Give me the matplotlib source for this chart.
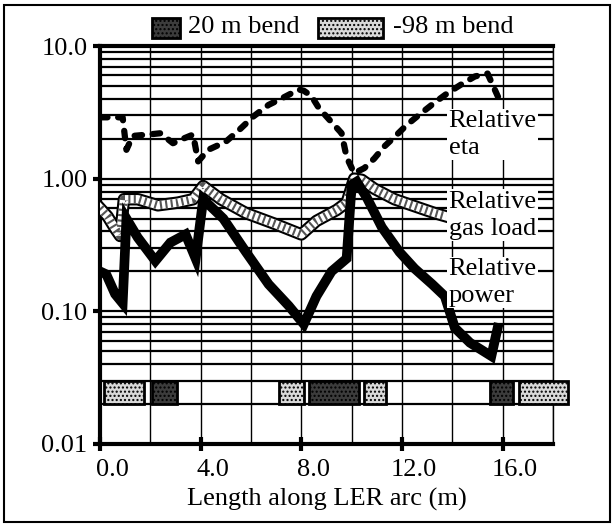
import numpy as np
import matplotlib
matplotlib.use("Agg")
import matplotlib.pyplot as plt
from matplotlib.patches import Rectangle
from matplotlib.ticker import FixedLocator, FixedFormatter, MultipleLocator, NullFormatter, LogLocator
import matplotlib.transforms as mtransforms

plt.rcParams['font.family'] = ['Liberation Serif', 'DejaVu Serif']
plt.rcParams['font.size'] = 19

# data
eta_x = [0.0, 0.9, 1.05, 1.3, 1.9, 2.4, 2.9, 3.3, 3.7, 3.9, 4.3, 5.0, 5.5, 6.1, 6.7, 7.3, 7.9,
         8.1, 8.4, 8.7, 9.1, 9.6, 9.8, 10.1, 10.5, 10.9, 11.3, 11.8, 12.2, 12.7, 13.3, 13.8,
         14.4, 14.9, 15.4, 15.6, 15.8, 15.9]
eta = [2.9, 2.9, 1.65, 2.1, 2.15, 2.2, 1.85, 2.0, 2.15, 1.35, 1.65, 1.9, 2.3, 2.95, 3.6, 4.1, 4.7,
       4.6, 4.2, 3.4, 2.8, 2.2, 1.45, 1.1, 1.2, 1.42, 1.75, 2.15, 2.55, 3.05, 3.75, 4.4,
       5.2, 5.9, 6.2, 5.1, 4.2, 3.9]

gas_x = [0.0, 0.3, 0.6, 0.8, 0.95, 1.5, 2.3, 3.1, 3.7, 4.1, 4.8, 5.8, 6.9, 8.0, 8.6, 9.4, 9.8,
         10.1, 10.4, 10.9, 11.7, 12.5, 13.3, 13.75]
gas = [0.6, 0.52, 0.42, 0.37, 0.7, 0.7, 0.63, 0.66, 0.7, 0.88, 0.7, 0.55, 0.46, 0.38, 0.48, 0.58,
       0.66, 1.0, 0.98, 0.84, 0.7, 0.62, 0.55, 0.52]

pow_x = [0.0, 0.25, 0.6, 0.9, 1.05, 1.5, 2.2, 2.8, 3.4, 3.8, 4.1, 4.9, 5.8, 6.7, 7.5, 8.1, 8.6,
         9.2, 9.8, 10.0, 10.2, 10.6, 11.2, 11.9, 12.5, 13.2, 13.7, 14.1, 14.7, 15.55, 15.8]
power = [0.2, 0.19, 0.135, 0.115, 0.5, 0.36, 0.24, 0.33, 0.38, 0.25, 0.7, 0.5, 0.28, 0.16, 0.11,
         0.08, 0.13, 0.2, 0.25, 0.9, 0.95, 0.72, 0.43, 0.28, 0.21, 0.16, 0.13, 0.075, 0.058,
         0.046, 0.075]

# bend magnets along the arc (start, end) in m
bend20 = [(2.05, 3.05), (8.3, 10.3), (15.5, 16.4)]
bend98 = [(0.15, 1.75), (7.1, 8.1), (10.5, 11.35), (16.65, 18.6)]

dark_c = '#3c3c3c'
light_c = '#d9d9d9'

fig = plt.figure(figsize=(6.15, 5.27), dpi=100)
ax = fig.add_axes([0.1626, 0.1575, 0.7366, 0.7552])
ax.set_yscale('log')
ax.set_xlim(0, 18)
ax.set_ylim(0.01, 10)

# grid
ax.yaxis.set_major_locator(FixedLocator([0.01, 0.1, 1, 10]))
ax.yaxis.set_major_formatter(FixedFormatter(['0.01', '0.10', '1.00', '10.0']))
ax.yaxis.set_minor_locator(LogLocator(base=10, subs=np.arange(2, 10)))
ax.yaxis.set_minor_formatter(NullFormatter())
ax.xaxis.set_major_locator(FixedLocator([0, 4, 8, 12, 16]))
ax.xaxis.set_major_formatter(FixedFormatter(['0.0', '4.0', '8.0', '12.0', '16.0']))
ax.xaxis.set_minor_locator(MultipleLocator(2))
ax.grid(axis='y', which='both', color='black', lw=1.6, zorder=0)
ax.grid(axis='x', which='both', color='black', lw=1.0, zorder=0)
ax.set_axisbelow(True)

ax.tick_params(axis='x', which='major', direction='inout', length=10, width=3, pad=6)
ax.tick_params(axis='y', which='major', direction='out', length=5, width=3, pad=4)
ax.tick_params(which='minor', length=0)
for lab in ax.get_xticklabels():
    lab.set_transform(lab.get_transform() + mtransforms.ScaledTranslation(12 / 100, 0, fig.dpi_scale_trans))

for s in ['left', 'bottom', 'top']:
    ax.spines[s].set_linewidth(3)
ax.spines['right'].set_linewidth(1)

# bend markers
for a, b in bend98:
    ax.bar(a, 0.01, bottom=0.02, width=b - a, align='edge', facecolor=light_c, edgecolor='black',
           lw=2, hatch='....', zorder=3, clip_on=False)
for a, b in bend20:
    ax.bar(a, 0.01, bottom=0.02, width=b - a, align='edge', facecolor=dark_c, edgecolor='black',
           lw=2, hatch='....', zorder=3, clip_on=False)

# relative gas load (stippled band)
ax.plot(gas_x, gas, color='black', lw=9, solid_joinstyle='round', zorder=4)
ax.plot(gas_x, gas, color='white', lw=6, solid_joinstyle='round', zorder=4)
ax.plot(gas_x, gas, color='#555555', lw=6, ls=(0, (0.25, 0.4)), zorder=4)

# relative eta (dashed)
ax.plot(eta_x, eta, color='black', lw=4.5, ls=(0, (1.2, 1.7)), dash_capstyle='round', zorder=5)

# relative power (thick solid)
ax.plot(pow_x, power, color='black', lw=7, solid_joinstyle='miter', zorder=6)

box = dict(facecolor='white', edgecolor='none', pad=1)
ax.text(13.85, 2.15, 'Relative\neta', ha='left', va='center', linespacing=1.3, bbox=box, zorder=8)
ax.text(13.85, 0.53, 'Relative\ngas load', ha='left', va='center', linespacing=1.3, bbox=box, zorder=8)
ax.text(13.85, 0.165, 'Relative\npower', ha='left', va='center', linespacing=1.3, bbox=box, zorder=8)

ax.set_xlabel('Length along LER arc (m)')
ax.xaxis.set_label_coords(0.5, -0.11)

# legend drawn at the top
fig.add_artist(Rectangle((152 / 615, 1 - 38 / 527), 28 / 615, 20 / 527, transform=fig.transFigure,
                         facecolor=dark_c, edgecolor='black', lw=2, hatch='....'))
fig.text(188 / 615, 1 - 27 / 527, '20 m bend', ha='left', va='center')
fig.add_artist(Rectangle((318 / 615, 1 - 38 / 527), 65 / 615, 20 / 527, transform=fig.transFigure,
                         facecolor=light_c, edgecolor='black', lw=2, hatch='....'))
fig.text(393 / 615, 1 - 27 / 527, '-98 m bend', ha='left', va='center')

# outer frame
fig.add_artist(Rectangle((4 / 615, 5 / 527), 606 / 615, 517 / 527, transform=fig.transFigure,
                         facecolor='none', edgecolor='black', lw=1.5))

fig.savefig('out.png', dpi=100)
